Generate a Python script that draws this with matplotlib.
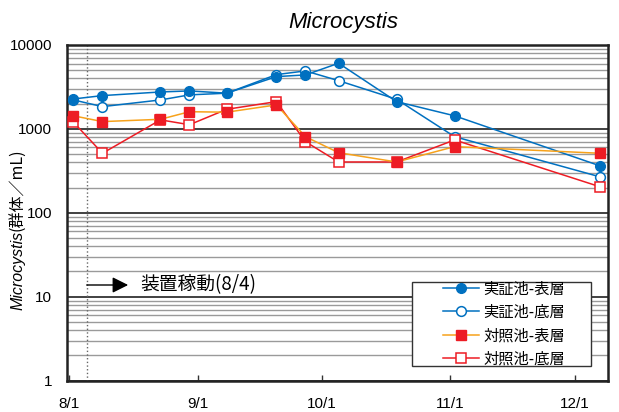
import numpy as np
import matplotlib
matplotlib.use('Agg')
import matplotlib.pyplot as plt
import matplotlib.dates as mdates
from matplotlib.ticker import LogLocator, FixedLocator, FuncFormatter, NullFormatter
from matplotlib.patches import Rectangle

plt.rcParams['font.family'] = ['Liberation Sans', 'Noto Sans CJK JP']

# sampling dates and counts (colonies / mL)
dates = np.array(['2012-08-02', '2012-08-09', '2012-08-23', '2012-08-30', '2012-09-08',
                  '2012-09-20', '2012-09-27', '2012-10-05', '2012-10-19', '2012-11-02',
                  '2012-12-07'], dtype='datetime64[D]')
demo_surface = [2270, 2490, 2750, 2830, 2660, 4190, 4390, 6050, 2110, 1430, 364]
demo_bottom = [2210, 1840, 2210, 2540, 2660, 4430, 4900, 3750, 2250, 807, 269]
ctrl_surface = [1430, 1220, 1300, 1600, 1580, 1930, 807, 520, 403, 614, 512]
ctrl_bottom = [1200, 512, 1280, 1120, 1710, 2110, 703, 403, 403, 738, 205]
labels = ['実証池-表層', '実証池-底層', '対照池-表層', '対照池-底層']
month_ticks = np.array(['2012-08-01', '2012-09-01', '2012-10-01', '2012-11-01', '2012-12-01'],
                       dtype='datetime64[D]')
start_date = np.datetime64('2012-08-04')

x = mdates.date2num(dates.astype('datetime64[s]').astype(object))
xt = mdates.date2num(month_ticks.astype('datetime64[s]').astype(object))
x_start = mdates.date2num(start_date.astype('datetime64[s]').astype(object))
x_line = x_start + 1.2  # dotted marker sits a little right of 8/4 in the original

blue = '#0070C0'
red = '#ED1C24'
orange = '#F7A21B'

fig = plt.figure(figsize=(6.19, 4.12), dpi=100)
ax = fig.add_axes([0.109, 0.076, 0.873, 0.815])

ax.plot(x, demo_surface, color=blue, lw=1.1, marker='o', ms=7, mfc=blue, mec=blue, label=labels[0], zorder=3.5)
ax.plot(x, demo_bottom, color=blue, lw=1.1, marker='o', ms=7, mfc='white', mec=blue, mew=1.1, label=labels[1], zorder=3)
ax.plot(x, ctrl_surface, color=orange, lw=1.1, marker='s', ms=7, mfc=red, mec=red, label=labels[2], zorder=3.5)
ax.plot(x, ctrl_bottom, color=red, lw=1.1, marker='s', ms=7, mfc='white', mec=red, mew=1.1, label=labels[3], zorder=3)

ax.set_yscale('log')
ax.set_ylim(1, 10000)
ax.set_xlim(xt[0] - 0.45, xt[0] + 130)

ax.yaxis.set_major_locator(FixedLocator([1, 10, 100, 1000, 10000]))
ax.yaxis.set_major_formatter(FuncFormatter(lambda v, p: '%d' % round(v)))
ax.yaxis.set_minor_locator(LogLocator(base=10, subs=np.arange(2, 10)))
ax.yaxis.set_minor_formatter(NullFormatter())
ax.grid(which='major', axis='y', color='#333333', lw=1.3)
ax.grid(which='minor', axis='y', color='#9a9a9a', lw=1.0)
ax.set_axisbelow(True)

ax.set_xticks(xt)
ax.set_xticklabels([f'{int(str(d)[5:7])}/{int(str(d)[8:10])}' for d in month_ticks])
ax.tick_params(axis='x', direction='in', length=4, width=1, color='#333333', pad=12, labelsize=11)
ax.tick_params(axis='y', which='both', length=0, pad=11, labelsize=11)

for s in ax.spines.values():
    s.set_linewidth(1.8)
    s.set_color('#222222')

ax.axvline(x_line, color='#666666', lw=1, ls=':', zorder=2)

ax.annotate('', xy=(x_line + 10, 13.8), xytext=(x_line, 13.8),
            arrowprops=dict(arrowstyle='-|>', color='black', lw=1, mutation_scale=24,
                            shrinkA=0, shrinkB=0))
ax.text(x_line + 13, 13.8, '装置稼動(8/4)', fontsize=13.5, va='center', ha='left',
        family=['Noto Sans CJK JP'])

ax.set_title('Microcystis', fontstyle='italic', fontsize=16, pad=12, x=0.51)

t1 = fig.text(0.029, 0.248, 'Microcystis', rotation=90, fontstyle='italic', fontsize=11.5,
              ha='center', va='bottom')
ax.annotate('(群体／mL)', xy=(0.5, 1.0), xycoords=t1, rotation=90, fontsize=11.5,
            ha='center', va='bottom', family=['Noto Sans CJK JP'], annotation_clip=False)

ax.add_patch(Rectangle((0.637, 0.044), 0.332, 0.25, transform=ax.transAxes,
                       facecolor='white', edgecolor='#333333', lw=1, zorder=4))
leg = ax.legend(loc='center', bbox_to_anchor=(0.808, 0.169), frameon=False,
                handlelength=2.3, handletextpad=0.3, labelspacing=0.42,
                prop={'family': ['Noto Sans CJK JP'], 'size': 11})
leg.set_zorder(5)

fig.savefig('out.png', dpi=100)
